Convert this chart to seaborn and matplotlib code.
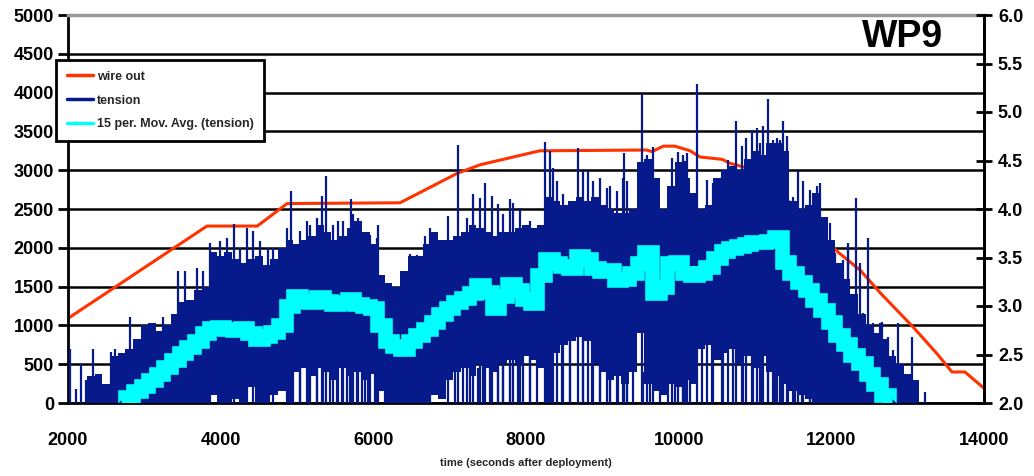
import numpy as np
import matplotlib
matplotlib.use("Agg")
import matplotlib.pyplot as plt
import seaborn as sns
from matplotlib.lines import Line2D

# ---- wire out (paid-out cable) ----
wire_time = [2000, 3820, 4480, 4870, 6350, 7100, 7400, 8180, 9580, 9650, 9800,
             9950, 10150, 10280, 10570, 10670, 11070, 11200, 11460, 11680,
             11890, 12080, 12380, 12640, 13070, 13380, 13580, 13750, 14000]
wire_out = [1090, 2280, 2280, 2570, 2580, 2960, 3070, 3250, 3260, 3240, 3310,
            3310, 3250, 3170, 3140, 3090, 2980, 2840, 2580, 2360,
            2140, 1950, 1710, 1420, 980, 640, 400, 400, 190]

# ---- tension: dense band, sampled every 100 s from 2000 s ----
tension_hi = [0, 0, 0, 350, 380, 250, 600, 650, 700, 820,
              1000, 1030, 930, 1000, 1150, 1300, 1330, 1450, 1500, 1950,
              1900, 1950, 1850, 1800, 1850, 1900, 1780, 1850, 2000, 2100,
              2050, 2100, 2150, 2300, 2200, 2100, 2150, 2250, 2350, 2200,
              2050, 1650, 1550, 1500, 1700, 1900, 1900, 2050, 2200, 2100,
              2100, 2150, 2200, 2300, 2250, 2200, 2150, 2200, 2200, 2250,
              2300, 2250, 2300, 2650, 2600, 2550, 2600, 2650, 2600, 2650,
              2550, 2500, 2450, 2450, 2500, 3100, 3150, 2900, 2500, 2800,
              3100, 2900, 2700, 2500, 2550, 2900, 3000, 3050, 3000, 3150,
              3250, 3200, 3350, 3350, 3250, 2600, 2500, 2550, 2700, 2400,
              2100, 1800, 1600, 1400, 1150, 1000, 900, 820, 600, 500,
              380, 300, 0]
tension_lo = [0, 0, 0, 0, 0, 0, 0, 0, 0, 0,
              0, 0, 0, 0, 0, 0, 0, 0, 0, 100,
              0, 0, 50, 0, 200, 0, 0, 100, 150, 0,
              400, 450, 350, 450, 400, 300, 450, 350, 400, 300,
              380, 150, 0, 0, 0, 0, 0, 0, 100, 50,
              300, 400, 450, 350, 500, 450, 400, 500, 550, 500,
              600, 550, 450, 0, 650, 750, 800, 850, 800, 500,
              400, 300, 350, 250, 400, 900, 250, 150, 100, 250,
              200, 300, 250, 700, 750, 550, 650, 700, 500, 600,
              450, 600, 400, 350, 250, 150, 100, 50, 0, 0,
              0, 0, 0, 0, 0, 0, 0, 0, 0, 0,
              0, 0, 0]

# isolated tension peaks rising above the band
spike_time = [2030, 2105, 2170, 2236, 2323, 2563, 2616, 2812, 3248, 3445,
              3533, 3685, 3773, 3860, 3991, 4175, 4419, 4624, 4926, 5170,
              5323, 5380, 5541, 5707, 5738, 5891, 6065, 6676, 6982, 7110,
              7301, 7463, 7550, 7790, 7834, 8250, 8314, 8358, 8402, 8683,
              8816, 8969, 9100, 9285, 9319, 9521, 9668, 9992, 10061, 10241,
              10454, 10751, 10882, 11021, 11109, 11174, 11283, 11371, 11567, 11633,
              11851, 12214, 12318, 12484, 12550, 12659, 12877, 13061, 13126, 13226,
              4079, 4253, 4340, 4515, 4690, 4864, 5039, 5127, 5258, 5476,
              5607, 5803, 5956, 6043, 6480, 6567, 6742, 7222, 7397, 7637,
              7703, 7921, 8052, 8489, 8576, 8751, 8882, 9056, 9187, 9275,
              9580, 9908, 10083, 10104, 10148, 10366, 10563, 10650, 10825, 10956,
              11065, 11240, 11327, 11414, 11502, 11720, 11807, 11895, 11982, 12048,
              12157, 12222, 12375, 12419, 12637, 12746, 12812, 12987]
spike_peak = [700, 180, 500, 300, 690, 660, 690, 1110, 1110, 1707,
              1707, 1740, 1700, 2064, 2085, 2309, 2215, 2000, 2730, 2300,
              2666, 2924, 2350, 2623, 2430, 2170, 2292, 2150, 2408, 3330,
              2690, 2840, 2666, 2623, 2580, 3360, 3246, 3030, 2860, 3280,
              2990, 2900, 2800, 3220, 2860, 3980, 3300, 3230, 3200, 4110,
              2830, 3630, 3414, 3543, 3565, 3917, 3414, 3630, 2984, 2855,
              2834, 2060, 2640, 2124, 1030, 1050, 1028, 856, 275, 146,
              2130, 2000, 2257, 2085, 2000, 2257, 2215, 2343, 2386, 2300,
              2343, 2386, 2170, 2130, 1920, 1910, 2257, 2386, 2644, 2558,
              2430, 2515, 2343, 2687, 2558, 2990, 2860, 2773, 2730, 2900,
              3200, 3160, 3120, 3220, 2700, 2880, 2920, 3135, 3307, 3520,
              3350, 3390, 3390, 3435, 2660, 2750, 2790, 2360, 2320, 1930,
              1845, 2017, 1800, 1157, 1028, 856, 684, 340]

# tension drops reaching down towards zero
dip_time = [4952, 5040, 5150, 5258, 5345, 5432, 5520, 5585, 5650, 5694,
            5782, 5847, 5934, 6021, 6043, 6152,
            7070, 7179, 7266, 7375, 7441, 7528, 7637, 7703, 7790, 7899,
            7965, 8052, 8140,
            8467, 8576, 8751, 8860, 8969, 9100, 9209, 9319, 9406,
            9537, 9624, 9755, 9864, 9951, 10061,
            10301, 10432, 10585, 10716, 10847, 10978, 11087, 11174, 11262, 11349,
            11436, 11524, 11611, 11720]
dip_top = [500, 500, 450, 500, 500, 450, 400, 500, 500, 450,
           450, 400, 400, 450, 450, 300,
           450, 500, 500, 450, 550, 550, 500, 550, 600, 600,
           600, 650, 600,
           750, 850, 900, 900, 700, 500, 450, 400, 500,
           400, 350, 300, 300, 300, 350,
           750, 800, 650, 700, 750, 600, 650, 700, 550, 500,
           400, 300, 250, 200]

# 15-period moving average of tension, every 100 s from 2700 s
avg_tension = [0, 80, 150, 220, 300, 380, 460, 560, 640, 720,
               800, 900, 970, 980, 960, 940, 970, 900, 830, 860,
               920, 1000, 1250, 1380, 1320, 1300, 1360, 1320, 1270, 1300,
               1340, 1280, 1250, 1230, 1000, 800, 730, 700, 800, 880,
               960, 1050, 1150, 1220, 1300, 1350, 1420, 1520, 1430, 1220,
               1380, 1530, 1450, 1340, 1290, 1650, 1850, 1800, 1760, 1740,
               1900, 1850, 1740, 1700, 1720, 1590, 1600, 1680, 1800, 1950,
               1420, 1500, 1800, 1820, 1680, 1650, 1670, 1750, 1870, 1960,
               2000, 2020, 2050, 2080, 2080, 2090, 2140, 1820, 1680, 1560,
               1450, 1330, 1200, 1050, 870, 760, 620, 520, 380, 240,
               100, 0]

x_ticks = [2000, 4000, 6000, 8000, 10000, 12000, 14000]
left_ticks = [0, 500, 1000, 1500, 2000, 2500, 3000, 3500, 4000, 4500, 5000]
right_ticks = [2.0, 2.5, 3.0, 3.5, 4.0, 4.5, 5.0, 5.5, 6.0]

tension_time = np.arange(2000, 2000 + 100 * len(tension_hi), 100)
avg_time = np.arange(2700, 2700 + 100 * len(avg_tension), 100)

RED = "#FF3300"
NAVY = "#061A8C"
CYAN = "#00FFFF"

sns.set_theme(style="white")
plt.rcParams["font.family"] = ["Liberation Sans", "DejaVu Sans"]
plt.rcParams["font.weight"] = "bold"

W, H = 1034, 476
fig = plt.figure(figsize=(W / 100, H / 100), dpi=100)
ax = fig.add_axes([68 / W, 1 - 403 / H, (984 - 68) / W, (403 - 15) / H])

# wire out
sns.lineplot(x=wire_time, y=wire_out, ax=ax, color=RED, lw=2.2, zorder=2)

# tension
ax.fill_between(tension_time, tension_lo, tension_hi, step="mid",
                color=NAVY, lw=0, zorder=3)
ax.vlines(spike_time, 0, spike_peak, color=NAVY, lw=1.6, zorder=3)
ax.vlines(dip_time, 0, dip_top, color=NAVY, lw=1.6, zorder=3)

# moving average
sns.lineplot(x=avg_time, y=avg_tension, ax=ax, color=CYAN, lw=10.5,
             drawstyle="steps-mid", solid_joinstyle="miter",
             solid_capstyle="butt", zorder=4)

ax.set_xlim(2000, 14000)
ax.set_ylim(0, 5000)
ax.set_xticks(x_ticks)
ax.set_yticks(left_ticks)
ax.set_xticklabels([str(v) for v in x_ticks], fontsize=13, fontweight="bold")
ax.set_yticklabels([str(v) for v in left_ticks], fontsize=13, fontweight="bold")
ax.yaxis.grid(True, color="black", lw=1.8, zorder=0)
ax.xaxis.grid(False)
ax.set_axisbelow(True)
ax.tick_params(axis="y", direction="out", length=7, width=2, pad=3, colors="black")
ax.tick_params(axis="x", direction="out", length=7, width=1.5, pad=14, colors="black")
for side in ("left", "right", "bottom"):
    ax.spines[side].set_color("black")
    ax.spines[side].set_linewidth(2)
ax.spines["top"].set_color("#999999")
ax.spines["top"].set_linewidth(2.5)
ax.set_xlabel("time (seconds after deployment)", fontsize=8, fontweight="bold")
ax.xaxis.set_label_coords(0.5, -0.142)
ax.set_ylabel("")

ax2 = ax.twinx()
ax2.set_ylim(2.0, 6.0)
ax2.set_yticks(right_ticks)
ax2.set_yticklabels([f"{v:.1f}" for v in right_ticks], fontsize=13, fontweight="bold")
ax2.tick_params(axis="y", direction="inout", length=12, width=2, pad=4, colors="black")
for side in ("left", "top", "bottom"):
    ax2.spines[side].set_visible(False)
ax2.spines["right"].set_color("black")
ax2.spines["right"].set_linewidth(2)
ax2.grid(False)

ax.text(0.955, 0.9175, "WP9", transform=ax.transAxes, ha="right", va="baseline",
        fontsize=27, fontweight="bold", color="black", zorder=6)

handles = [Line2D([], [], color=RED, lw=2.5),
           Line2D([], [], color=NAVY, lw=2.5),
           Line2D([], [], color=CYAN, lw=2.5)]
labels = ["wire out", "tension", "15 per. Mov. Avg. (tension)"]
leg = ax2.legend(handles, labels, loc="upper left", bbox_to_anchor=(-0.013, 0.884),
                 borderaxespad=0, fancybox=False, framealpha=1, edgecolor="black",
                 prop={"size": 9, "weight": "bold"}, handlelength=2.1,
                 handletextpad=0.3, labelspacing=0.95, borderpad=0.85)
leg.get_frame().set_linewidth(2)
leg.set_zorder(10)

fig.savefig("out.png", dpi=100)
